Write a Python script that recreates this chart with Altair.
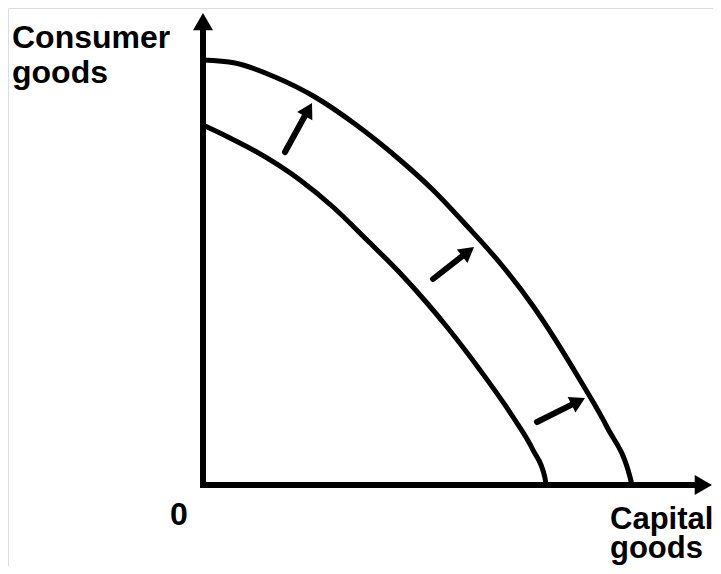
import math
import altair as alt
import pandas as pd

# Curves (x = capital goods, y = consumer goods), origin at the axes corner
outer_x = [0, 32, 72, 112, 152, 197, 230, 264, 297, 330, 377, 404, 427, 429]
outer_y = [425, 422, 408, 388, 361, 325, 295, 259, 222, 179, 105, 58, 8, 0]
inner_x = [0, 25, 52, 97, 130, 164, 197, 224, 244, 277, 310, 330, 342, 343]
inner_y = [360, 348, 334, 305, 278, 245, 212, 182, 158, 115, 68, 35, 7, 0]

# Shift arrows: tail and tip
arrow_tail_x = [82, 230, 334]
arrow_tail_y = [333, 206, 63]
arrow_tip_x = [109, 271, 382]
arrow_tip_y = [382, 238, 87]

# Axes (end points of the arrows)
axis_tip_x = [0, 509]
axis_tip_y = [472, 0]

labels = ["Consumer", "goods", "0", "Capital", "goods"]
label_x = [-191, -191, -33, 407, 407]
label_y = [437, 402, -40, -44, -73]
label_size = [32, 32, 32, 31, 31]

X_DOM = [-195, 510]
Y_DOM = [-81, 477]
W, H = 705, 558

xs = alt.Scale(domain=X_DOM, nice=False, zero=False)
ys = alt.Scale(domain=Y_DOM, nice=False, zero=False)

curves = pd.concat([
    pd.DataFrame({"x": outer_x, "y": outer_y, "c": "outer"}),
    pd.DataFrame({"x": inner_x, "y": inner_y, "c": "inner"}),
])


def head(tx, ty, hx, hy, h):
    dx, dy = hx - tx, hy - ty
    L = math.hypot(dx, dy)
    ux, uy = dx / L, dy / L
    ang = math.degrees(math.atan2(dx, dy)) % 360
    return hx - ux * h, hy - uy * h, ang, ux, uy


# small arrows
shafts, heads = [], []
S_SMALL, S_BIG = 300, 400
h_small = math.sqrt(3) * (math.sqrt(S_SMALL) / 2) / 2
for tx, ty, hx, hy in zip(arrow_tail_x, arrow_tail_y, arrow_tip_x, arrow_tip_y):
    cx, cy, ang, ux, uy = head(tx, ty, hx, hy, h_small)
    shafts.append({"x": tx, "y": ty, "x2": cx, "y2": cy})
    heads.append({"x": cx, "y": cy, "ang": ang, "s": S_SMALL})

# axes
axes_rows = []
h_big = math.sqrt(3) * (math.sqrt(S_BIG) / 2) / 2
for ax, ay in zip(axis_tip_x, axis_tip_y):
    cx, cy, ang, ux, uy = head(0, 0, ax, ay, h_big)
    axes_rows.append({"x": 0, "y": 0, "x2": cx - ux * h_big, "y2": cy - uy * h_big})
    heads.append({"x": cx, "y": cy, "ang": ang, "s": S_BIG})

base_x = alt.X("x:Q", scale=xs, axis=None)
base_y = alt.Y("y:Q", scale=ys, axis=None)

lines = alt.Chart(curves).mark_line(
    color="black", strokeWidth=5, interpolate="monotone", strokeCap="round"
).encode(x=base_x, y=base_y, detail="c:N", order="x:Q")

shaft_layer = alt.Chart(pd.DataFrame(shafts)).mark_rule(
    color="black", strokeWidth=6, strokeCap="round"
).encode(x=base_x, y=base_y, x2="x2:Q", y2="y2:Q")

axes_layer = alt.Chart(pd.DataFrame(axes_rows)).mark_rule(
    color="black", strokeWidth=6, strokeCap="square"
).encode(x=base_x, y=base_y, x2="x2:Q", y2="y2:Q")

head_layer = alt.Chart(pd.DataFrame(heads)).mark_point(
    shape="triangle-up", filled=True, color="black", opacity=1, strokeWidth=0
).encode(
    x=base_x, y=base_y,
    angle=alt.Angle("ang:Q", scale=None),
    size=alt.Size("s:Q", scale=None),
)

text_layer = alt.Chart(
    pd.DataFrame({"x": label_x, "y": label_y, "t": labels, "fs": label_size})
).mark_text(
    align="left", baseline="alphabetic", font="Liberation Sans",
    fontWeight="bold", color="black"
).encode(
    x=base_x, y=base_y, text="t:N",
    size=alt.Size("fs:Q", scale=None),
)

chart = alt.layer(
    lines, axes_layer, shaft_layer, head_layer, text_layer
).properties(
    width=W, height=H, autosize=alt.AutoSizeParams(type="none"), padding=0
).configure_view(stroke=None).configure(background="white")

chart.save("out.html", embed_options={"renderer": "svg", "actions": False})
